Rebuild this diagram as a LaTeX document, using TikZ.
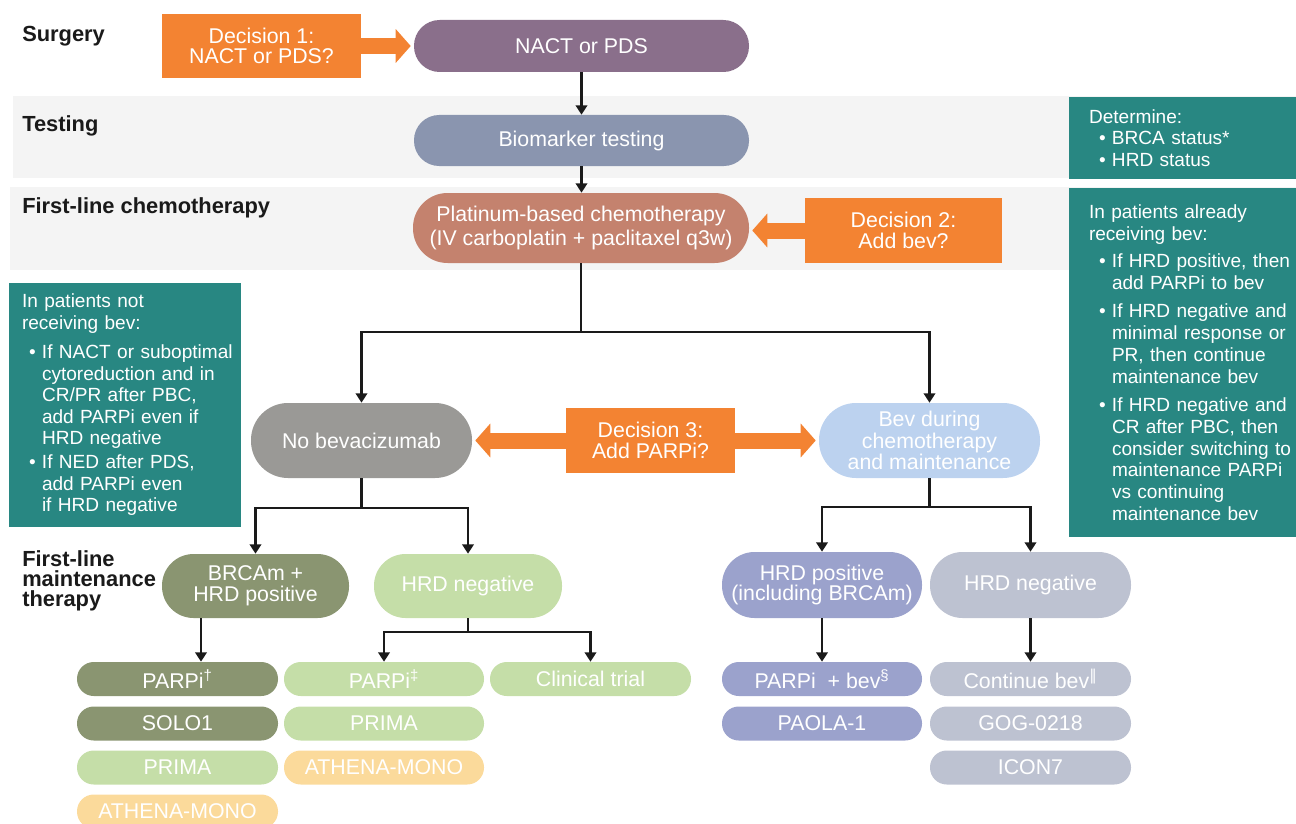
\documentclass[tikz,border=0pt]{standalone}
\usepackage{fontspec}
\setmainfont{Liberation Sans}
\newfontfamily\dvfont{DejaVu Sans}
\usetikzlibrary{arrows.meta,calc}
\definecolor{cOrange}{HTML}{F38332}
\definecolor{cTeal}{HTML}{288782}
\definecolor{cBand}{HTML}{F4F4F4}
\definecolor{cNact}{HTML}{8A6F8B}
\definecolor{cBio}{HTML}{8A95AF}
\definecolor{cPlat}{HTML}{C4826E}
\definecolor{cNobev}{HTML}{9A9996}
\definecolor{cBev}{HTML}{BCD2EF}
\definecolor{cOlive}{HTML}{8A9571}
\definecolor{cLGreen}{HTML}{C5DEA8}
\definecolor{cLav}{HTML}{9BA2CC}
\definecolor{cGrey}{HTML}{BDC2D1}
\definecolor{cLOrange}{HTML}{FBDA9B}
\definecolor{cInk}{HTML}{1A1A1A}
\newcommand{\bul}[3]{\par\vspace{#3}\hangindent=#1\hangafter=1\noindent\makebox[#1][l]{\hspace*{#2}•}}
\begin{document}
\begin{tikzpicture}[x=0.75pt,y=-0.75pt,
 every node/.style={inner sep=0pt},
 pill/.style n args={3}{fill=#3,text=white,minimum width=#1*0.75pt,minimum height=#2*0.75pt,rounded corners=#2*0.37pt,align=center,font=\fontsize{16pt}{15.5pt}\selectfont},
 obox/.style n args={2}{fill=cOrange,text=white,minimum width=#1*0.75pt,minimum height=#2*0.75pt,align=center,font=\fontsize{16pt}{15.5pt}\selectfont},
 tbox/.style n args={2}{fill=cTeal,minimum width=#1*0.75pt,minimum height=#2*0.75pt},
 ttext/.style={text=white,anchor=west,text width=165pt,align=left,font=\fontsize{14.3pt}{16.3pt}\selectfont},
 lab/.style={anchor=base west,align=left,font=\fontsize{16.4pt}{15pt}\selectfont\bfseries,text=cInk},
 conn/.style={line width=1.8pt,draw=cInk},
 arr/.style={conn,-{Triangle[length=7pt,width=8.5pt]}},
 barrow/.style={draw=cOrange,line width=12pt,-{Triangle[length=11.25pt,width=24.75pt]},shorten >=2.25pt},
]
\useasboundingbox (0,0) rectangle (1296,824);
% bands
\fill[cBand] (13,96) rectangle (1296,178);
\fill[cBand] (10,187) rectangle (1296,270);
% row labels
\node[lab] (lsurg) at (22,42) {Surgery};
\node[lab] (ltest) at (22,132) {Testing};
\node[lab] (lchemo) at (22,213) {First-line chemotherapy};
\node[lab,anchor=west] (lmaint) at (22,581) {First-line\\maintenance\\therapy};
% top flow
\node[obox={199}{64}] (dec1) at (261.5,46) {Decision 1:\\NACT or PDS?};
\node[pill={335}{52}{cNact}] (nact) at (581.5,46) {NACT or PDS};
\node[pill={335}{51}{cBio}] (bio) at (581.5,140.5) {Biomarker testing};
\node[pill={336}{70}{cPlat},font=\fontsize{16pt}{18pt}\selectfont] (plat) at (581,228) {Platinum-based chemotherapy\\(IV carboplatin + paclitaxel q3w)};
\node[obox={197}{65}] (dec2) at (903.5,230.5) {Decision 2:\\Add bev?};
% teal boxes
\node[tbox={227}{82}] (tdet) at (1182.5,138) {};
\node[ttext] (tdettxt) at ($(tdet.west)+(20,0)$) {Determine:\bul{17.25pt}{7.5pt}{0pt}BRCA status*\bul{17.25pt}{7.5pt}{0pt}HRD status\par};
\node[tbox={227}{349}] (tbev) at (1182.5,362.5) {};
\node[ttext] (tbevtxt) at ($(tbev.west)+(20,0)$) {In patients already\newline receiving bev:%
\bul{17.25pt}{7.5pt}{4.5pt}If HRD positive, then\newline add PARPi to bev%
\bul{17.25pt}{7.5pt}{5pt}If HRD negative and\newline minimal response or\newline PR, then continue\newline maintenance bev%
\bul{17.25pt}{7.5pt}{5pt}If HRD negative and\newline CR after PBC, then\newline consider switching to\newline maintenance PARPi\newline vs continuing\newline maintenance bev\par};
\node[tbox={232}{244}] (tnob) at (125,405) {};
\node[ttext,font=\fontsize{14.3pt}{16.1pt}\selectfont] (tnobtxt) at ($(tnob.west)+(13,0)$) {In patients not\newline receiving bev:%
\bul{15pt}{5.25pt}{6pt}If NACT or suboptimal\newline cytoreduction and in\newline CR/PR after PBC,\newline add PARPi even if\newline HRD negative%
\bul{15pt}{5.25pt}{2pt}If NED after PDS,\newline add PARPi even\newline if HRD negative\par};
% middle
\node[pill={221}{75}{cNobev}] (nobev) at (361.5,440.5) {No bevacizumab};
\node[obox={169}{65}] (dec3) at (650.5,440.5) {Decision 3:\\Add PARPi?};
\node[pill={221}{75}{cBev},font=\fontsize{16pt}{14.3pt}\selectfont] (bev) at (929.5,440.5) {Bev during\\chemotherapy\\and maintenance};
% maintenance row
\node[pill={187}{64}{cOlive}] (brca) at (255.5,586) {BRCAm +\\HRD positive};
\node[pill={188}{64}{cLGreen}] (hneg1) at (468,586) {HRD negative};
\node[pill={200}{66}{cLav}] (hpos) at (822,585) {HRD positive\\(including BRCAm)};
\node[pill={201}{66}{cGrey}] (hneg2) at (1030.5,585) {HRD negative};
% bottom pills
\node[pill={201}{34}{cOlive}] (p1a) at (177.5,679) {PARPi\textsuperscript{†}};
\node[pill={201}{34}{cOlive}] (p1b) at (177.5,723.5) {SOLO1};
\node[pill={201}{34}{cLGreen}] (p1c) at (177.5,767.5) {PRIMA};
\node[pill={201}{34}{cLOrange}] (p1d) at (177.5,811.5) {ATHENA-MONO};
\node[pill={200}{34}{cLGreen}] (p2a) at (384,679) {PARPi\textsuperscript{‡}};
\node[pill={200}{34}{cLGreen}] (p2b) at (384,723.5) {PRIMA};
\node[pill={200}{34}{cLOrange}] (p2c) at (384,767.5) {ATHENA-MONO};
\node[pill={201}{34}{cLGreen}] (p3a) at (590.5,679) {Clinical trial};
\node[pill={200}{34}{cLav}] (p4a) at (822,679) {PARPi\ \ + bev\textsuperscript{§}};
\node[pill={200}{34}{cLav}] (p4b) at (822,723.5) {PAOLA-1};
\node[pill={201}{34}{cGrey}] (p5a) at (1030.5,679) {Continue bev\textsuperscript{\dvfont ‖}};
\node[pill={201}{34}{cGrey}] (p5b) at (1030.5,723.5) {GOG-0218};
\node[pill={201}{34}{cGrey}] (p5c) at (1030.5,767.5) {ICON7};
% orange block arrows
\draw[barrow] (dec1.east) -- (dec1.east -| nact.west);
\draw[barrow] (dec2.west) -- (dec2.west -| plat.east);
\draw[barrow] (dec3.west) -- (dec3.west -| nobev.east);
\draw[barrow] (dec3.east) -- (dec3.east -| bev.west);
% connectors
\draw[arr] (nact.south) -- (nact.south |- bio.north);
\draw[arr] (bio.south) -- (bio.south |- plat.north);
\coordinate (j1) at (581,332);
\draw[conn] (plat.south) -- (j1);
\draw[arr] (j1) -| (nobev.north);
\draw[arr] (j1) -| (bev.north);
\coordinate (j2) at ($(nobev.south)+(0,30)$);
\draw[conn] (nobev.south) -- (j2);
\draw[arr] (j2) -| (brca.north);
\draw[arr] (j2) -| (hneg1.north);
\coordinate (j3) at ($(bev.south)+(0,29)$);
\draw[conn] (bev.south) -- (j3);
\draw[arr] (j3) -| (hpos.north);
\draw[arr] (j3) -| (hneg2.north);
\coordinate (c201) at (201,0);
\draw[arr] (brca.south -| c201) -- (p1a.north -| c201);
\coordinate (j4) at ($(hneg1.south)+(0,14)$);
\draw[conn] (hneg1.south) -- (j4);
\draw[arr] (j4) -| (p2a.north);
\draw[arr] (j4) -| (p3a.north);
\draw[arr] (hpos.south) -- (hpos.south |- p4a.north);
\draw[arr] (hneg2.south) -- (hneg2.south |- p5a.north);
\end{tikzpicture}
\end{document}
